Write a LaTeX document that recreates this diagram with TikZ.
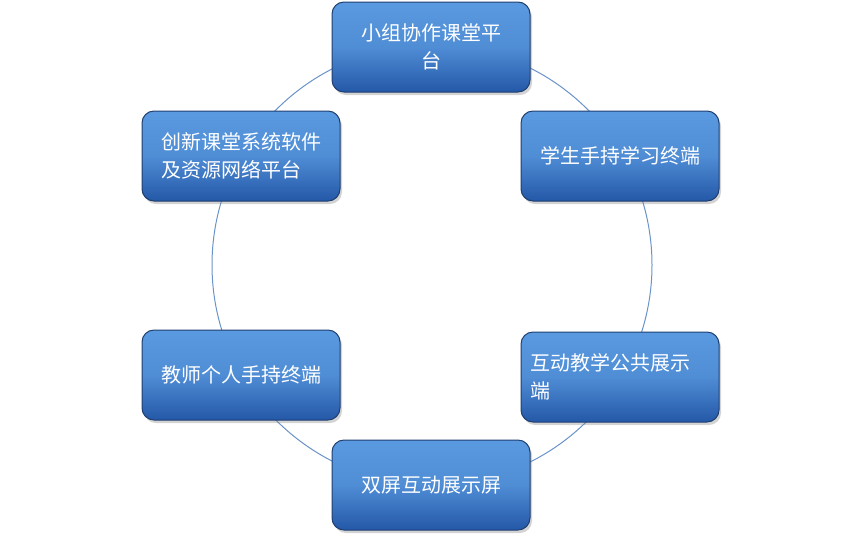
\documentclass[tikz,border=0pt]{standalone}
\usepackage{fontspec}
\newfontfamily\cjk{Noto Sans CJK SC}
\usetikzlibrary{shadows}
\definecolor{btop}{HTML}{5A9AE0}
\definecolor{bbot}{HTML}{2458A8}
\definecolor{bdr}{HTML}{1F3F70}
\definecolor{ring}{HTML}{6A93C8}
\tikzset{
 box/.style={draw=bdr,line width=1pt,rounded corners=12pt,minimum width=198pt,minimum height=90pt,
   top color=btop,bottom color=bbot,middle color=btop!80!bbot,text=white,font=\cjk\fontsize{20}{28}\selectfont,
   drop shadow={shadow xshift=2pt,shadow yshift=-3pt,opacity=0.35},inner sep=4pt}
}
\begin{document}
\begin{tikzpicture}[x=1pt,y=-1pt]
\useasboundingbox (0,0) rectangle (864,539);
\draw[ring,line width=1pt] (432,265) circle (220);
\node[box,align=center] (a) at (431,47) {小组协作课堂平\\台};
\node[box,align=left] (b) at (620,156) {学生手持学习终端};
\node[box,align=left,text width=180pt] (c) at (620,377) {互动教学公共展示\\端};
\node[box] (d) at (431,485) {双屏互动展示屏};
\node[box] (e) at (241,375) {教师个人手持终端};
\node[box,align=left] (f) at (241,156) {创新课堂系统软件\\及资源网络平台};
\end{tikzpicture}
\end{document}
